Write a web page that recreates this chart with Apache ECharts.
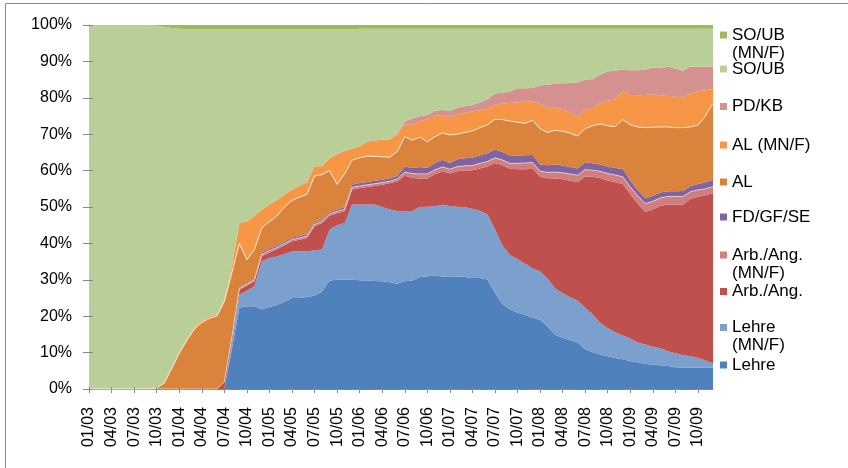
<!DOCTYPE html>
<html>
<head>
<meta charset="utf-8">
<script src="https://cdn.jsdelivr.net/npm/echarts@6/dist/echarts.min.js"></script>
<style>
html,body{margin:0;padding:0;background:#fff;}
#chart{width:848px;height:468px;}
</style>
</head>
<body>
<div id="chart"></div>
<script>
// ---- categories (months 01/03 .. 12/09) ----
const months = [
 '01/03','02/03','03/03','04/03','05/03','06/03','07/03','08/03','09/03','10/03','11/03','12/03',
 '01/04','02/04','03/04','04/04','05/04','06/04','07/04','08/04','09/04','10/04','11/04','12/04',
 '01/05','02/05','03/05','04/05','05/05','06/05','07/05','08/05','09/05','10/05','11/05','12/05',
 '01/06','02/06','03/06','04/06','05/06','06/06','07/06','08/06','09/06','10/06','11/06','12/06',
 '01/07','02/07','03/07','04/07','05/07','06/07','07/07','08/07','09/07','10/07','11/07','12/07',
 '01/08','02/08','03/08','04/08','05/08','06/08','07/08','08/08','09/08','10/08','11/08','12/08',
 '01/09','02/09','03/09','04/09','05/09','06/09','07/09','08/09','09/09','10/09','11/09','12/09'
];

// ---- series values (percent shares) ----
const lehre = [
 0,0,0,0,0,0,0,0,0,0,0,0,
 0,0,0,0,0,0,0,11,22.3,22.7,22.7,21.9,
 22.5,23.1,24,25,25,25.3,25.7,26.8,29.8,30,30,30,
 29.9,29.8,29.7,29.6,29.3,28.9,29.6,29.8,30.8,31,31.1,30.9,
 30.8,30.9,30.8,30.5,30.5,30.1,26.4,23.3,21.9,21,20.3,19.6,
 19,17.2,14.9,14.1,13.4,12.8,10.9,10.1,9.5,9,8.5,8.2,
 7.7,7.3,6.9,6.7,6.5,6.3,6,5.9,5.9,5.9,5.9,5.9
];
const lehreMNF = [
 0,0,0,0,0,0,0,0,0,0,0,0,
 0,0,0,0,0,0,0,1.5,3.6,4.3,5.5,13.2,
 13.5,13.3,13.1,12.8,12.8,12.5,12.4,11.5,14,15,15.6,20.7,
 20.8,20.9,21,20.4,20,20,19.3,19.1,19.2,19.1,19.1,19.7,
 19.5,19.2,19.1,19,18.4,17.9,17.4,16.1,14.9,14.7,14.1,13.6,
 13.3,13.1,12.7,12.2,11.8,11.5,11.4,10.4,8.7,7.7,7.1,6.5,
 6.2,5.5,5.3,4.9,4.7,4.1,3.8,3.4,3.1,2.6,1.9,1.2
];
const arb = [
 0,0,0,0,0,0,0,0,0,0,0,0,
 0,0,0,0,0,0,2,1.5,1.4,1.4,1.4,1.4,
 1.5,2,2.4,2.8,3.2,3.7,6.6,7.3,3.8,3.3,3.2,4.1,
 4.5,4.8,5.1,6.1,7.2,8.1,9.7,9.1,7.8,7.7,8.8,9.2,
 8.9,9.7,10.1,10.6,11.7,13.1,18.3,22.1,23.7,24.7,26,27.3,
 26,27.6,30.2,31.3,32,32.5,36.1,37.8,39.8,40.6,41.2,41.6,
 39.6,38.1,36.4,37.7,39.1,40.3,40.9,41.4,43.2,44.3,45.4,46.7
];
const arbMNF = [
 0,0,0,0,0,0,0,0,0,0,0,0,
 0,0,0,0,0,0,0,0.2,0.3,0.3,0.4,0.5,
 0.5,0.5,0.5,0.5,0.5,0.5,0.5,0.5,0.5,0.5,0.6,0.6,
 0.6,0.6,0.6,0.6,0.6,0.7,1,1.2,1.3,1.3,1.2,1.2,
 1.2,1.3,1.3,1.3,1.4,1.4,1.4,1.4,1.5,1.6,1.7,1.7,
 1.6,1.6,1.8,1.8,1.9,1.9,1.9,1.8,1.8,1.9,2,2,
 2,2.2,2.3,2.3,2.2,2.2,2.2,2.2,2,1.9,1.8,1.8
];
const fdgfse = [
 0,0,0,0,0,0,0,0,0,0,0,0,
 0,0,0,0,0,0,0,0.2,0.3,0.3,0.4,0.5,
 0.5,0.5,0.5,0.5,0.5,0.5,0.5,0.5,0.5,0.5,0.6,0.8,
 0.8,0.8,0.8,0.8,0.8,0.8,1.5,1.5,1.9,1.7,1.8,2,
 1.7,2,2.1,2.1,2.2,2.3,2.3,2.2,2,2.1,2.1,2.1,
 1.8,2,2.1,2,1.9,1.9,2,1.9,1.9,1.9,1.9,2.2,
 1.8,1.5,1.5,1.5,1.5,1.4,1.4,1.5,1.6,1.6,1.8,1.9
];
const al = [
 0,0,0,0,0,0,0,0,0,0.3,1.6,5.6,
 9.8,13.3,16.4,18.3,19.4,20,22,17.5,12.1,6.5,7.9,6.8,
 7.5,8.1,9.5,10.2,10.7,11,12.8,12.3,11.4,6.9,9.1,6.7,
 6.9,7.1,6.7,6.3,5.8,6.7,8.2,7.6,8.2,7.1,7.3,7.3,
 7.7,6.9,7.1,7.4,7.6,7.8,8.3,8.9,9.6,9.2,8.8,9.5,
 9.8,9,9.4,9.4,9.3,8.9,9.2,10.3,11.1,11.2,11.4,13.5,
 15.3,17.4,19.4,18.8,18,17.7,17.5,17.4,16.2,16.2,18.2,21
];
const alMNF = [
 0,0,0,0,0,0,0,0,0,0,0,0,
 0,0.3,0.4,0.4,0.5,0.5,0.5,1.8,5.6,10.6,9.2,5,
 4.7,4.5,3.4,3,3.1,3.3,2.7,2.3,3.3,8.3,6.3,3.1,
 3.2,4,4.4,4.7,4.9,4.6,3.5,4.2,4.4,6.2,5.7,5,
 4.9,5.4,5.4,5.4,4.8,4.3,4,4.4,5,5.5,5.9,5.2,
 6.8,6.7,6.2,6.1,5.7,5.3,5.3,5,5.7,6.9,7.5,7.9,
 8.2,8.7,9,9.1,8.7,8.5,8.5,8.3,9.2,9.3,7.1,3.9
];
const pdkb = [
 0,0,0,0,0,0,0,0,0,0,0,0,
 0,0,0,0,0,0,0,0,0,0,0,0,
 0,0,0,0,0,0,0,0,0,0,0,0,
 0,0,0,0,0,0.3,0.6,1.8,1.3,1.2,1.4,1.4,
 1.6,1.9,1.8,1.7,2.2,2.7,3.1,3,3.1,3.8,3.7,3.7,
 5.1,6.4,6.6,7.1,8.1,9.4,8.2,7.8,7.9,8,7.9,5.8,
 6.8,6.9,7,7.3,7.4,8.1,7.7,7.3,7.3,6.8,6.5,6.2
];
const soub = [
 100,100,100,100,100,100,100,100,100,99.5,97.9,93.6,
 89.2,85.2,82,80.1,78.9,78.3,74.3,65.1,53.2,52.7,51.3,49.5,
 48.1,46.8,45.4,44,43,42,37.6,37.6,35.5,34.3,33.4,32.8,
 32.3,31,30.7,30.5,30.4,28.9,25.6,24.7,24.1,23.7,22.6,22.3,
 22.7,21.7,21.3,21,20.2,19.4,17.8,17.6,17.3,16.4,16.4,16.3,
 15.6,15.4,15.1,15,14.9,14.8,14,13.9,12.6,11.8,11.5,11.3,
 11.4,11.4,11.2,10.7,10.9,10.4,11,11.6,10.5,10.4,10.4,10.4
];
const soubMNF = [
 0,0,0,0,0,0,0,0,0,0.2,0.5,0.8,
 1,1.2,1.2,1.2,1.2,1.2,1.2,1.2,1.2,1.2,1.2,1.2,
 1.2,1.2,1.2,1.2,1.2,1.2,1.2,1.2,1.2,1.2,1.2,1.2,
 1,1,1,1,1,1,1,1,1,1,1,1,
 1,1,1,1,1,1,1,1,1,1,1,1,
 1,1,1,1,1,1,1,1,1,1,1,1,
 1,1,1,1,1,1,1,1,1,1,1,1
];
const yTicks = [0,10,20,30,40,50,60,70,80,90,100];

// ---- series definitions (bottom of stack first) ----
const seriesDefs = [
  {name:'Lehre',            values:lehre,    color:'#4F81BD'},
  {name:'Lehre (MN/F)',     values:lehreMNF, color:'#7BA0CD'},
  {name:'Arb./Ang.',        values:arb,      color:'#C0504D'},
  {name:'Arb./Ang. (MN/F)', values:arbMNF,   color:'#D27E7C', line:'rgba(255,255,255,0.55)'},
  {name:'FD/GF/SE',         values:fdgfse,   color:'#8064A2'},
  {name:'AL',               values:al,       color:'#D9833C', line:'rgba(255,236,214,0.95)'},
  {name:'AL (MN/F)',        values:alMNF,    color:'#F79646'},
  {name:'PD/KB',            values:pdkb,     color:'#D59190'},
  {name:'SO/UB',            values:soub,     color:'#BACF98'},
  {name:'SO/UB (MN/F)',     values:soubMNF,  color:'#9BBB59'}
];

// 100% stacked: normalise each month to its total
const totals = months.map((m, i) => seriesDefs.reduce((s, d) => s + d.values[i], 0));

const FONT = '"Liberation Sans", Arial, Helvetica, sans-serif';

const series = seriesDefs.map(d => ({
  name: d.name,
  type: 'line',
  stack: 'total',
  data: d.values.map((v, i) => totals[i] ? v / totals[i] * 100 : 0),
  color: d.color,
  itemStyle: {color: d.color},
  areaStyle: {color: d.color, opacity: 1},
  lineStyle: d.line ? {width: 1, color: d.line} : {width: 0, opacity: 0},
  symbol: 'none',
  showSymbol: false,
  smooth: false,
  emphasis: {disabled: true},
  silent: true
}));

// legend: one component per entry, Excel-like positions (icon centre y)
const legendLayout = [
  ['SO/UB (MN/F)', 35, ' \nSO/UB\n(MN/F)'],
  ['SO/UB', 69, null],
  ['PD/KB', 106.5, null],
  ['AL (MN/F)', 145, null],
  ['AL', 182, null],
  ['FD/GF/SE', 217, null],
  ['Arb./Ang. (MN/F)', 255, ' \nArb./Ang.\n(MN/F)'],
  ['Arb./Ang.', 291.5, null],
  ['Lehre (MN/F)', 327.5, ' \nLehre\n(MN/F)'],
  ['Lehre', 365, null]
];
const legends = legendLayout.map(([name, cy, txt]) => ({
  data: [{name: name, icon: 'rect'}],
  orient: 'vertical',
  left: 720,
  top: txt ? cy - 27 : cy - 9,
  padding: 0,
  itemGap: 0,
  itemWidth: 7,
  itemHeight: 7,
  selectedMode: false,
  formatter: txt ? txt : '{name}',
  textStyle: {fontSize: 17, lineHeight: 18, color: '#000', fontFamily: FONT}
}));

const axisGrey = '#868686';
const option = {
  animation: false,
  backgroundColor: '#ffffff',
  textStyle: {fontFamily: FONT},
  grid: {left: 89, right: 135, top: 25, bottom: 79, containLabel: false},
  legend: legends,
  xAxis: [{
    type: 'category',
    data: months,
    boundaryGap: false,
    axisLine: {lineStyle: {color: axisGrey, width: 1}},
    axisTick: {interval: 2, length: 4, lineStyle: {color: axisGrey}},
    axisLabel: {interval: 2, rotate: 90, margin: 18, fontSize: 16, color: '#000', fontFamily: FONT},
    splitLine: {show: false}
  }, {
    type: 'category',
    data: months,
    boundaryGap: false,
    position: 'bottom',
    axisLine: {show: false},
    axisTick: {inside: true, interval: 2, length: 2, lineStyle: {color: axisGrey}},
    axisLabel: {show: false},
    splitLine: {show: false},
    z: 10
  }],
  yAxis: [{
    type: 'value',
    min: yTicks[0], max: yTicks[yTicks.length - 1], interval: 10,
    axisLine: {show: true, lineStyle: {color: axisGrey, width: 1}},
    axisTick: {show: true, length: 6, lineStyle: {color: axisGrey}},
    axisLabel: {formatter: '{value}%', fontSize: 16, margin: 17, color: '#000', fontFamily: FONT},
    splitLine: {show: false}
  }, {
    type: 'value',
    position: 'left',
    offset: 0,
    min: yTicks[0], max: yTicks[yTicks.length - 1], interval: 10,
    axisLine: {show: false},
    axisTick: {show: true, inside: true, length: 4, lineStyle: {color: axisGrey}},
    axisLabel: {show: false},
    splitLine: {show: false},
    z: 10
  }],
  graphic: [{
    type: 'rect',
    silent: true,
    shape: {x: 5.5, y: 3.5, width: 900, height: 600},
    style: {fill: 'none', stroke: '#8a8a8a', lineWidth: 1},
    z: 100
  }],
  series: series
};

const chart = echarts.init(document.getElementById('chart'), null, {renderer: 'canvas'});
chart.setOption(option);
</script>
</body>
</html>
